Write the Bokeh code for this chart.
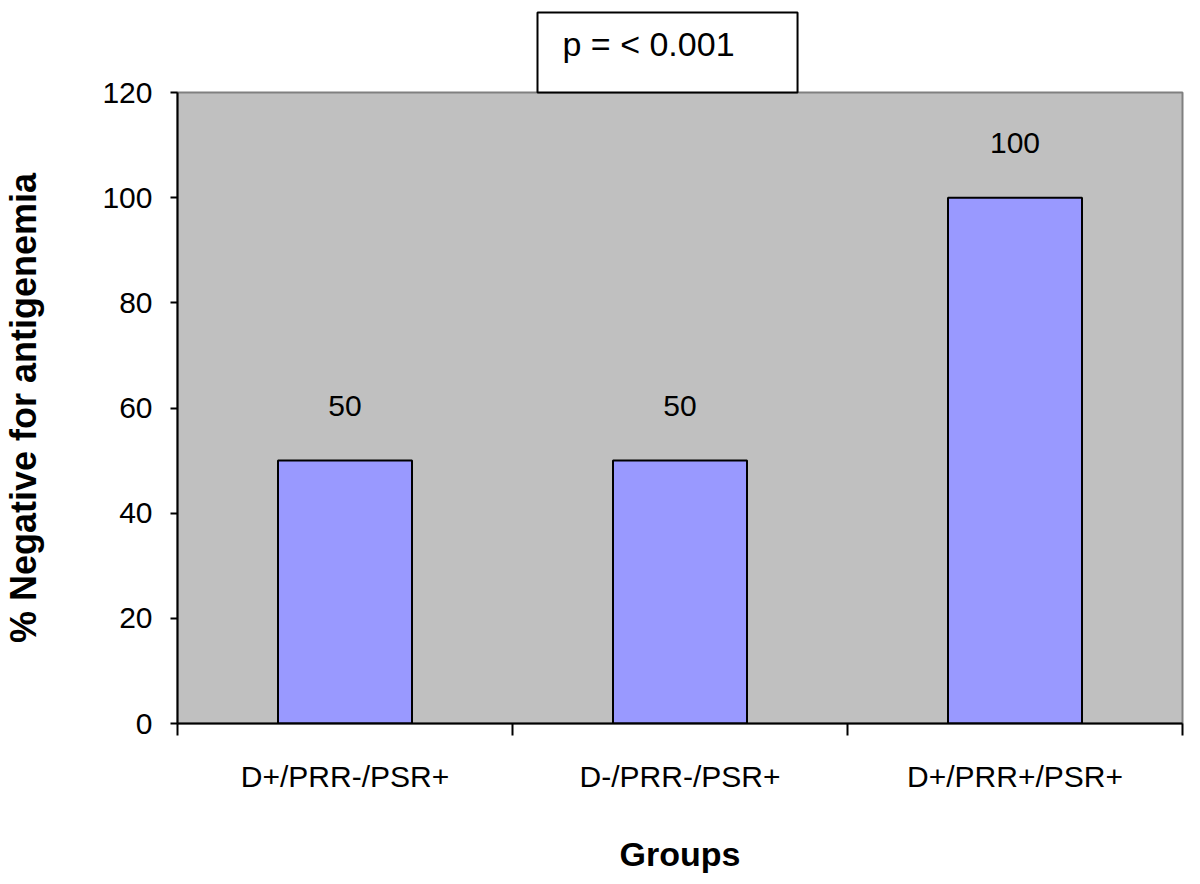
from bokeh.plotting import figure
from bokeh.models import Range1d, FixedTicker, ColumnDataSource, LabelSet, Title
from bokeh.core.properties import value
from bokeh.embed import file_html
from bokeh.resources import INLINE

groups = ["D+/PRR-/PSR+", "D-/PRR-/PSR+", "D+/PRR+/PSR+"]
values = [50, 50, 100]
y_ticks = [0, 20, 40, 60, 80, 100, 120]
p_text = "p = < 0.001"

FONT = "Liberation Sans"

xs = [i + 0.5 for i in range(len(groups))]
src = ColumnDataSource(dict(x=xs, top=values, lab=[str(v) for v in values]))

p = figure(frame_width=1005, frame_height=631,
           x_range=Range1d(0, len(groups)), y_range=Range1d(0, 120),
           output_backend="svg", toolbar_location=None,
           min_border_left=174, min_border_right=5,
           min_border_top=92, min_border_bottom=150)

p.background_fill_color = "#C0C0C0"
p.border_fill_color = "white"
p.outline_line_color = "#808080"
p.outline_line_width = 2
p.xgrid.visible = False
p.ygrid.visible = False

p.vbar(x="x", top="top", width=0.4, bottom=0, source=src,
       fill_color="#9999FF", line_color="black", line_width=2)

labels = LabelSet(x="x", y="top", text="lab", source=src, y_offset=45,
                  text_align="center", text_baseline="alphabetic",
                  text_font=value(FONT), text_font_size="30px", text_color="black")
p.add_layout(labels)

# y axis
ya = p.yaxis[0]
ya.ticker = FixedTicker(ticks=y_ticks)
ya.axis_line_width = 2
ya.axis_line_color = "black"
ya.major_tick_line_width = 2
ya.major_tick_line_color = "black"
ya.major_tick_out = 7
ya.major_tick_in = 0
ya.minor_tick_line_color = None
ya.major_label_text_font = FONT
ya.major_label_text_font_size = "30px"
ya.major_label_text_color = "black"
ya.major_label_standoff = 18
ya.axis_label = "% Negative for antigenemia"
ya.axis_label_text_font = FONT
ya.axis_label_text_font_style = "bold"
ya.axis_label_text_font_size = "36px"
ya.axis_label_text_color = "black"
ya.axis_label_standoff = 55

# x axis
xa = p.xaxis[0]
xa.ticker = FixedTicker(ticks=xs, minor_ticks=list(range(len(groups) + 1)))
xa.major_label_overrides = {x: g for x, g in zip(xs, groups)}
xa.axis_line_width = 2
xa.axis_line_color = "black"
xa.major_tick_out = 0
xa.major_tick_in = 0
xa.minor_tick_line_color = "black"
xa.minor_tick_line_width = 2
xa.minor_tick_out = 12
xa.minor_tick_in = 0
xa.major_label_text_font = FONT
xa.major_label_text_font_size = "30px"
xa.major_label_text_color = "black"
xa.major_label_standoff = 24
xa.axis_label = "Groups"
xa.axis_label_text_font = FONT
xa.axis_label_text_font_style = "bold"
xa.axis_label_text_font_size = "34px"
xa.axis_label_text_color = "black"
xa.axis_label_standoff = 39

# p-value box (placed above the frame)
box = Title(text=p_text, align="left", offset=360, standoff=0,
            text_font=FONT, text_font_size="34px", text_font_style="normal",
            text_color="black", background_fill_color="white",
            border_line_color="black", border_line_width=2,
            padding=(25, 63, 12, 30))
p.add_layout(box, "above")

open("out.html", "w").write(file_html(p, INLINE))
